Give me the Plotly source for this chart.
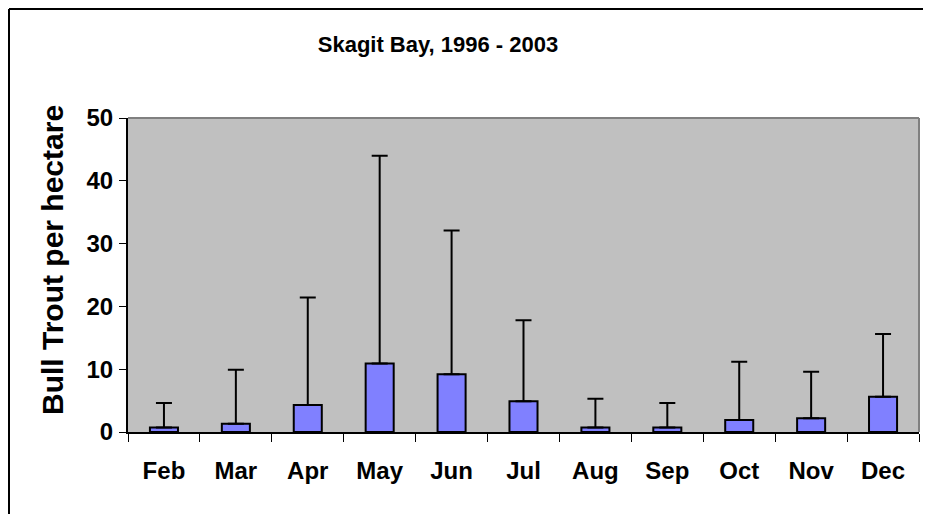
import plotly.graph_objects as go

months = ["Feb", "Mar", "Apr", "May", "Jun", "Jul", "Aug", "Sep", "Oct", "Nov", "Dec"]
mean_density = [0.7, 1.3, 4.3, 10.9, 9.2, 4.9, 0.7, 0.7, 1.9, 2.2, 5.6]
upper_error = [3.9, 8.6, 17.1, 33.1, 22.9, 12.9, 4.6, 3.9, 9.3, 7.4, 10.0]
y_ticks = [0, 10, 20, 30, 40, 50]

FONT = "Liberation Sans, Arial, sans-serif"

L, R, T, B = 120, 911, 110, 424
W, H = 931, 514
PW, PH = R - L, B - T

fig = go.Figure()
fig.add_trace(go.Bar(
    x=months,
    y=mean_density,
    marker=dict(color="#8080FF", line=dict(color="black", width=2)),
    error_y=dict(type="data", symmetric=False, array=upper_error,
                 arrayminus=[0] * len(months), color="black",
                 thickness=2, width=8),
))

fig.update_layout(
    width=W, height=H,
    margin=dict(l=L, r=W - R, t=T, b=H - B),
    paper_bgcolor="white",
    plot_bgcolor="#C0C0C0",
    bargap=0.61,
    showlegend=False,
    title=dict(text="<b>Skagit Bay, 1996 - 2003</b>", x=430 / W, xanchor="center",
               xref="container",
               y=1 - 36 / H, yanchor="middle", yref="container",
               font=dict(family=FONT, size=22, color="black")),
    font=dict(family=FONT, color="black"),
)

fig.update_xaxes(
    type="category",
    tickson="boundaries",
    ticks="outside", ticklen=8, tickwidth=1, tickcolor="black",
    showline=True, linecolor="black", linewidth=2,
    showgrid=False,
    tickfont=dict(family=FONT, size=24, color="black"),
    ticklabelstandoff=16,
    tickprefix="<b>", ticksuffix="</b>",
)

fig.update_yaxes(
    range=[0, 50],
    tickvals=y_ticks,
    ticktext=[f"<b>{v}</b>" for v in y_ticks],
    ticks="outside", ticklen=7, tickwidth=1, tickcolor="black",
    showline=True, linecolor="black", linewidth=2,
    showgrid=False, zeroline=False,
    tickfont=dict(family=FONT, size=24, color="black"),
    ticklabelstandoff=1,
)

# y-axis title placed as in the reference (slightly above plot centre)
fig.add_annotation(
    text="<b>Bull Trout per hectare</b>", textangle=-90,
    xref="paper", yref="paper",
    x=(44 - L) / PW, y=(B - 252) / PH,
    xanchor="center", yanchor="middle", showarrow=False,
    font=dict(family=FONT, size=30, color="black"),
)

# gray border on top/right of plot area
fig.add_shape(type="line", xref="paper", yref="paper", x0=0, x1=1, y0=1, y1=1,
              line=dict(color="#808080", width=2))
fig.add_shape(type="line", xref="paper", yref="paper", x0=1, x1=1, y0=0, y1=1,
              line=dict(color="#808080", width=2))
# outer frame (left and top edges of the chart area)
fx = (1 - L) / PW
fy = (B - 1) / PH
fig.add_shape(type="line", xref="paper", yref="paper",
              x0=fx, x1=fx, y0=(B - H) / PH, y1=fy,
              line=dict(color="black", width=2))
fig.add_shape(type="line", xref="paper", yref="paper",
              x0=fx, x1=(W - L) / PW, y0=fy, y1=fy,
              line=dict(color="black", width=2))

fig.write_html("out.html")
